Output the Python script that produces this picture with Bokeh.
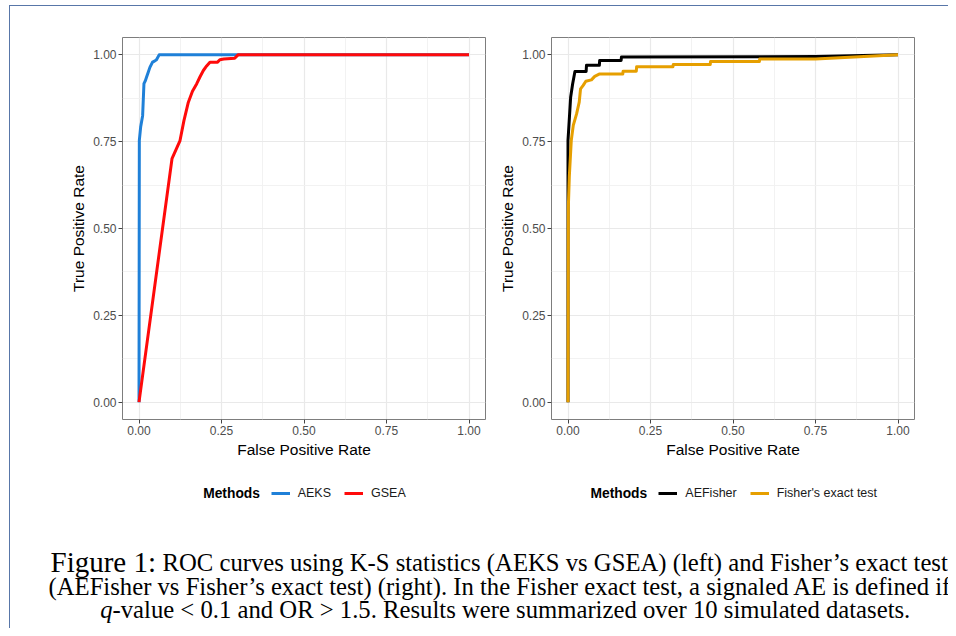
from bokeh.plotting import figure
from bokeh.models import Range1d, FixedTicker, Legend, LegendItem, Label, NumeralTickFormatter
from bokeh.layouts import row, column
from bokeh.embed import file_html
from bokeh.resources import INLINE

# ---------------- data ----------------
tick_values = [0.0, 0.25, 0.5, 0.75, 1.0]
minor_values = [0.125, 0.375, 0.625, 0.875]

aeks_fpr = [0.0, 0.001, 0.005, 0.011, 0.015, 0.019, 0.023, 0.028, 0.033, 0.041, 0.047, 0.053, 0.061, 1.0]
aeks_tpr = [0.0, 0.754, 0.792, 0.825, 0.917, 0.925, 0.936, 0.950, 0.964, 0.979, 0.982, 0.986, 1.0, 1.0]

gsea_fpr = [0.0, 0.100, 0.124, 0.136, 0.149, 0.162, 0.175, 0.185, 0.195, 0.205, 0.215, 0.238, 0.245, 0.257, 0.290, 0.300, 1.0]
gsea_tpr = [0.0, 0.701, 0.752, 0.810, 0.862, 0.895, 0.917, 0.937, 0.955, 0.968, 0.979, 0.979, 0.986, 0.988, 0.990, 1.0, 1.0]

aef_fpr = [0.0, 0.0, 0.003, 0.008, 0.014, 0.021, 0.055, 0.056, 0.095, 0.096, 0.161, 0.162, 0.75, 1.0]
aef_tpr = [0.0, 0.754, 0.800, 0.878, 0.916, 0.952, 0.952, 0.970, 0.970, 0.984, 0.984, 0.994, 0.995, 1.0]

fet_fpr = [0.0, 0.001, 0.004, 0.010, 0.016, 0.026, 0.034, 0.038, 0.046, 0.054, 0.071, 0.081, 0.096,
           0.166, 0.167, 0.207, 0.208, 0.318, 0.319, 0.431, 0.432, 0.580, 0.581, 0.750, 1.0]
fet_tpr = [0.0, 0.56, 0.65, 0.754, 0.797, 0.830, 0.864, 0.902, 0.912, 0.924, 0.928, 0.938, 0.945,
           0.945, 0.953, 0.953, 0.966, 0.966, 0.972, 0.972, 0.981, 0.981, 0.988, 0.988, 1.0]

left_names = ["AEKS", "GSEA"]
left_colors = ["#1f80d8", "#ff0a0a"]
right_names = ["AEFisher", "Fisher's exact test"]
right_colors = ["#000000", "#e69f00"]
legend_title = "Methods"
x_title = "False Positive Rate"
y_title = "True Positive Rate"

caption_head = "Figure 1:"
caption_l1 = "ROC curves using K-S statistics (AEKS vs GSEA) (left) and Fisher\u2019s exact tests"
caption_l2 = "(AEFisher vs Fisher\u2019s exact test) (right). In the Fisher exact test, a signaled AE is defined if"
caption_q = "q"
caption_l3 = "-value < 0.1 and OR > 1.5. Results were summarized over 10 simulated datasets."

SANS = "Liberation Sans"
SERIF = "Liberation Serif"

X0, Y0 = 10, 6          # page position of the layout content
PANEL_H = 464
LEG_H = 46
CAP_H = 112
TOTAL_W = 938


def make_panel(mbl, mbr, series):
    p = figure(frame_width=363, frame_height=382, min_border_left=mbl, min_border_right=mbr,
               min_border_top=31, min_border_bottom=51,
               x_range=Range1d(-0.05, 1.05), y_range=Range1d(-0.05, 1.05),
               output_backend="svg", toolbar_location=None)
    p.background_fill_color = "white"
    p.border_fill_color = "white"
    p.outline_line_color = "#7d7d7d"
    p.outline_line_width = 1
    ticker = FixedTicker(ticks=tick_values, minor_ticks=minor_values)
    for ax in (p.xaxis[0], p.yaxis[0]):
        ax.ticker = ticker
        ax.formatter = NumeralTickFormatter(format="0.00")
        ax.axis_line_color = None
        ax.major_tick_in = 0
        ax.major_tick_out = 4
        ax.major_tick_line_color = "#444444"
        ax.minor_tick_line_color = None
        ax.major_label_text_font = SANS
        ax.major_label_text_font_size = "12px"
        ax.major_label_text_color = "#4d4d4d"
        ax.major_label_standoff = 2
        ax.axis_label_text_font = SANS
        ax.axis_label_text_font_size = "15.5px"
        ax.axis_label_text_font_style = "normal"
        ax.axis_label_text_color = "black"
        ax.axis_label_standoff = 3
    p.xaxis.axis_label = x_title
    p.yaxis.axis_label = y_title
    for g in (p.xgrid[0], p.ygrid[0]):
        g.grid_line_color = "#e9e9e9"
        g.grid_line_width = 1.2
        g.minor_grid_line_color = "#f1f1f1"
        g.minor_grid_line_width = 0.9
    for xs, ys, col in series:
        p.line(xs, ys, line_color=col, line_width=3, line_join="round")
    return p


p1 = make_panel(112, 8, [(aeks_fpr, aeks_tpr, left_colors[0]),
                         (gsea_fpr, gsea_tpr, left_colors[1])])
p2 = make_panel(58, 34, [(aef_fpr, aef_tpr, right_colors[0]),
                         (fet_fpr, fet_tpr, right_colors[1])])

# ---------------- legend strip (data coords = page pixels) ----------------
lg_top = Y0 + PANEL_H
lg = figure(width=TOTAL_W, height=LEG_H, x_range=Range1d(X0, X0 + TOTAL_W),
            y_range=Range1d(lg_top + LEG_H, lg_top), min_border=0,
            output_backend="svg", toolbar_location=None)
lg.axis.visible = False
lg.grid.visible = False
lg.outline_line_color = None
lg.border_fill_color = "white"


def add_legend(names, colors, data, glyph_x, title_x):
    items = []
    for n, c, (xs, ys) in zip(names, colors, data):
        # hidden proxy renderer (same series, same style) used only for the legend key
        r = lg.line(xs, ys, line_color=c, line_width=3, visible=False)
        items.append(LegendItem(label=n, renderers=[r]))
    leg = Legend(items=items, orientation="horizontal",
                 location=(glyph_x - X0, (lg_top + LEG_H) - 500),
                 glyph_width=19, glyph_height=14, label_height=14, label_standoff=8,
                 spacing=13, padding=0, margin=0, border_line_color=None,
                 background_fill_alpha=0, label_text_font=SANS, label_text_font_size="12.5px",
                 label_text_color="#1a1a1a", label_text_baseline="middle",
                 click_policy="none")
    lg.add_layout(leg, "center")
    lg.add_layout(Label(x=title_x, y=493, text=legend_title, text_font=SANS,
                        text_font_size="13.8px", text_font_style="bold",
                        text_baseline="middle", text_color="black"))


add_legend(left_names, left_colors, [(aeks_fpr, aeks_tpr), (gsea_fpr, gsea_tpr)], 270.7, 202.7)
add_legend(right_names, right_colors, [(aef_fpr, aef_tpr), (fet_fpr, fet_tpr)], 658.3, 590)

# ---------------- caption (data coords = page pixels) ----------------
cap_top = lg_top + LEG_H
cap = figure(width=TOTAL_W, height=CAP_H, x_range=Range1d(X0, X0 + TOTAL_W),
             y_range=Range1d(cap_top + CAP_H, cap_top), min_border=0,
             output_backend="svg", toolbar_location=None)
cap.axis.visible = False
cap.grid.visible = False
cap.outline_line_color = None
cap.border_fill_color = "white"

BODY = "24.7px"
cap.add_layout(Label(x=50, y=561, text=caption_head, text_font=SERIF, text_font_size="29px",
                     text_baseline="middle", text_color="black"))
cap.add_layout(Label(x=162, y=562, text=caption_l1, text_font=SERIF, text_font_size=BODY,
                     text_baseline="middle", text_color="black"))
cap.add_layout(Label(x=48, y=586, text=caption_l2, text_font=SERIF, text_font_size=BODY,
                     text_baseline="middle", text_color="black"))
cap.add_layout(Label(x=112, y=609, text=caption_q, text_font=SERIF, text_font_size=BODY,
                     text_font_style="italic", text_align="right",
                     text_baseline="middle", text_color="black"))
cap.add_layout(Label(x=112, y=609, text=caption_l3, text_font=SERIF, text_font_size=BODY,
                     text_baseline="middle", text_color="black"))

layout = column(row(p1, p2), lg, cap, margin=(5, 0, 0, 9),
                styles={"border-top": "1px solid #5876a8", "border-left": "1px solid #5876a8"})

open("out.html", "w").write(file_html(layout, INLINE))
